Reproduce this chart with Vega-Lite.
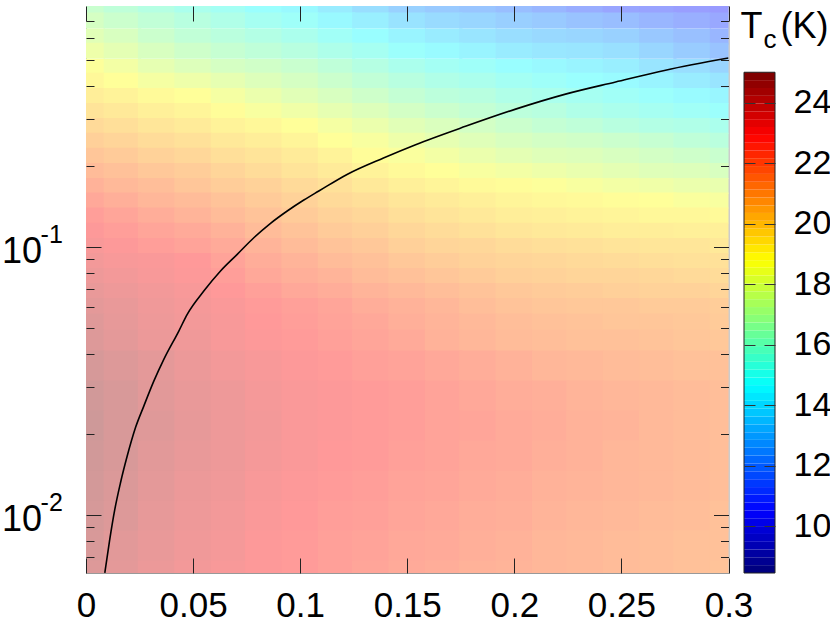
{"$schema":"https://vega.github.io/schema/vega-lite/v6.json","background":"white","padding":{"left":0,"top":5,"right":0,"bottom":0},"spacing":15,"bounds":"flush","resolve":{"scale":{"color":"independent"}},"config":{"font":"Liberation Sans","axis":{"grid":false,"domain":false,"title":null}},
"datasets":{"hi":[
{"x":0,"y":0.79,"t":16.6},{"x":0.017,"y":0.79,"t":16.2},{"x":0.033,"y":0.79,"t":15.8},{"x":0.05,"y":0.79,"t":15.4},{"x":0.067,"y":0.79,"t":15.1},{"x":0.083,"y":0.79,"t":14.7},{"x":0.1,"y":0.79,"t":14.4},{"x":0.117,"y":0.79,"t":13.9},{"x":0.133,"y":0.79,"t":13.3},{"x":0.15,"y":0.79,"t":12.8},{"x":0.167,"y":0.79,"t":12.5},{"x":0.183,"y":0.79,"t":12.3},{"x":0.2,"y":0.79,"t":12.0},{"x":0.217,"y":0.79,"t":11.7},{"x":0.233,"y":0.79,"t":11.3},{"x":0.25,"y":0.79,"t":11.0},{"x":0.267,"y":0.79,"t":10.9},{"x":0.283,"y":0.79,"t":10.7},{"x":0.3,"y":0.79,"t":10.6},
{"x":0,"y":0.7,"t":17.1},{"x":0.017,"y":0.7,"t":16.7},{"x":0.033,"y":0.7,"t":16.3},{"x":0.05,"y":0.7,"t":15.9},{"x":0.067,"y":0.7,"t":15.6},{"x":0.083,"y":0.7,"t":15.2},{"x":0.1,"y":0.7,"t":14.9},{"x":0.117,"y":0.7,"t":14.4},{"x":0.133,"y":0.7,"t":14.0},{"x":0.15,"y":0.7,"t":13.5},{"x":0.167,"y":0.7,"t":13.2},{"x":0.183,"y":0.7,"t":13.0},{"x":0.2,"y":0.7,"t":12.7},{"x":0.217,"y":0.7,"t":12.5},{"x":0.233,"y":0.7,"t":12.2},{"x":0.25,"y":0.7,"t":12.0},{"x":0.267,"y":0.7,"t":11.7},{"x":0.283,"y":0.7,"t":11.4},{"x":0.3,"y":0.7,"t":11.1},
{"x":0,"y":0.61,"t":17.6},{"x":0.017,"y":0.61,"t":17.2},{"x":0.033,"y":0.61,"t":16.7},{"x":0.05,"y":0.61,"t":16.3},{"x":0.067,"y":0.61,"t":16.0},{"x":0.083,"y":0.61,"t":15.7},{"x":0.1,"y":0.61,"t":15.4},{"x":0.117,"y":0.61,"t":15.0},{"x":0.133,"y":0.61,"t":14.6},{"x":0.15,"y":0.61,"t":14.2},{"x":0.167,"y":0.61,"t":13.9},{"x":0.183,"y":0.61,"t":13.6},{"x":0.2,"y":0.61,"t":13.3},{"x":0.217,"y":0.61,"t":13.1},{"x":0.233,"y":0.61,"t":13.0},{"x":0.25,"y":0.61,"t":12.8},{"x":0.267,"y":0.61,"t":12.4},{"x":0.283,"y":0.61,"t":12.1},{"x":0.3,"y":0.61,"t":11.7},
{"x":0,"y":0.54,"t":18.1},{"x":0.017,"y":0.54,"t":17.7},{"x":0.033,"y":0.54,"t":17.2},{"x":0.05,"y":0.54,"t":16.8},{"x":0.067,"y":0.54,"t":16.5},{"x":0.083,"y":0.54,"t":16.2},{"x":0.1,"y":0.54,"t":15.9},{"x":0.117,"y":0.54,"t":15.5},{"x":0.133,"y":0.54,"t":15.2},{"x":0.15,"y":0.54,"t":14.8},{"x":0.167,"y":0.54,"t":14.5},{"x":0.183,"y":0.54,"t":14.2},{"x":0.2,"y":0.54,"t":13.9},{"x":0.217,"y":0.54,"t":13.7},{"x":0.233,"y":0.54,"t":13.6},{"x":0.25,"y":0.54,"t":13.4},{"x":0.267,"y":0.54,"t":13.0},{"x":0.283,"y":0.54,"t":12.6},{"x":0.3,"y":0.54,"t":12.2},
{"x":0,"y":0.47,"t":18.7},{"x":0.017,"y":0.47,"t":18.3},{"x":0.033,"y":0.47,"t":17.8},{"x":0.05,"y":0.47,"t":17.4},{"x":0.067,"y":0.47,"t":17.1},{"x":0.083,"y":0.47,"t":16.9},{"x":0.1,"y":0.47,"t":16.6},{"x":0.117,"y":0.47,"t":16.2},{"x":0.133,"y":0.47,"t":15.8},{"x":0.15,"y":0.47,"t":15.4},{"x":0.167,"y":0.47,"t":15.1},{"x":0.183,"y":0.47,"t":14.9},{"x":0.2,"y":0.47,"t":14.6},{"x":0.217,"y":0.47,"t":14.4},{"x":0.233,"y":0.47,"t":14.2},{"x":0.25,"y":0.47,"t":14.0},{"x":0.267,"y":0.47,"t":13.6},{"x":0.283,"y":0.47,"t":13.3},{"x":0.3,"y":0.47,"t":12.9},
{"x":0,"y":0.417,"t":19.1},{"x":0.017,"y":0.417,"t":18.8},{"x":0.033,"y":0.417,"t":18.4},{"x":0.05,"y":0.417,"t":18.1},{"x":0.067,"y":0.417,"t":17.8},{"x":0.083,"y":0.417,"t":17.4},{"x":0.1,"y":0.417,"t":17.1},{"x":0.117,"y":0.417,"t":16.7},{"x":0.133,"y":0.417,"t":16.3},{"x":0.15,"y":0.417,"t":15.9},{"x":0.167,"y":0.417,"t":15.6},{"x":0.183,"y":0.417,"t":15.4},{"x":0.2,"y":0.417,"t":15.1},{"x":0.217,"y":0.417,"t":14.9},{"x":0.233,"y":0.417,"t":14.7},{"x":0.25,"y":0.417,"t":14.5},{"x":0.267,"y":0.417,"t":14.2},{"x":0.283,"y":0.417,"t":13.9},{"x":0.3,"y":0.417,"t":13.6},
{"x":0,"y":0.366,"t":19.5},{"x":0.017,"y":0.366,"t":19.3},{"x":0.033,"y":0.366,"t":19.0},{"x":0.05,"y":0.366,"t":18.8},{"x":0.067,"y":0.366,"t":18.4},{"x":0.083,"y":0.366,"t":18.0},{"x":0.1,"y":0.366,"t":17.6},{"x":0.117,"y":0.366,"t":17.2},{"x":0.133,"y":0.366,"t":16.8},{"x":0.15,"y":0.366,"t":16.4},{"x":0.167,"y":0.366,"t":16.1},{"x":0.183,"y":0.366,"t":15.9},{"x":0.2,"y":0.366,"t":15.6},{"x":0.217,"y":0.366,"t":15.4},{"x":0.233,"y":0.366,"t":15.2},{"x":0.25,"y":0.366,"t":15.0},{"x":0.267,"y":0.366,"t":14.8},{"x":0.283,"y":0.366,"t":14.5},{"x":0.3,"y":0.366,"t":14.3},
{"x":0,"y":0.322,"t":19.9},{"x":0.017,"y":0.322,"t":19.7},{"x":0.033,"y":0.322,"t":19.4},{"x":0.05,"y":0.322,"t":19.2},{"x":0.067,"y":0.322,"t":18.9},{"x":0.083,"y":0.322,"t":18.5},{"x":0.1,"y":0.322,"t":18.2},{"x":0.117,"y":0.322,"t":17.8},{"x":0.133,"y":0.322,"t":17.4},{"x":0.15,"y":0.322,"t":17.0},{"x":0.167,"y":0.322,"t":16.7},{"x":0.183,"y":0.322,"t":16.4},{"x":0.2,"y":0.322,"t":16.1},{"x":0.217,"y":0.322,"t":15.9},{"x":0.233,"y":0.322,"t":15.6},{"x":0.25,"y":0.322,"t":15.4},{"x":0.267,"y":0.322,"t":15.2},{"x":0.283,"y":0.322,"t":15.0},{"x":0.3,"y":0.322,"t":14.8},
{"x":0,"y":0.283,"t":20.3},{"x":0.017,"y":0.283,"t":20.1},{"x":0.033,"y":0.283,"t":19.8},{"x":0.05,"y":0.283,"t":19.6},{"x":0.067,"y":0.283,"t":19.3},{"x":0.083,"y":0.283,"t":19.1},{"x":0.1,"y":0.283,"t":18.8},{"x":0.117,"y":0.283,"t":18.4},{"x":0.133,"y":0.283,"t":18.0},{"x":0.15,"y":0.283,"t":17.6},{"x":0.167,"y":0.283,"t":17.3},{"x":0.183,"y":0.283,"t":17.0},{"x":0.2,"y":0.283,"t":16.7},{"x":0.217,"y":0.283,"t":16.4},{"x":0.233,"y":0.283,"t":16.2},{"x":0.25,"y":0.283,"t":15.9},{"x":0.267,"y":0.283,"t":15.7},{"x":0.283,"y":0.283,"t":15.6},{"x":0.3,"y":0.283,"t":15.4},
{"x":0,"y":0.249,"t":20.7},{"x":0.017,"y":0.249,"t":20.5},{"x":0.033,"y":0.249,"t":20.2},{"x":0.05,"y":0.249,"t":20.0},{"x":0.067,"y":0.249,"t":19.7},{"x":0.083,"y":0.249,"t":19.5},{"x":0.1,"y":0.249,"t":19.2},{"x":0.117,"y":0.249,"t":18.8},{"x":0.133,"y":0.249,"t":18.5},{"x":0.15,"y":0.249,"t":18.1},{"x":0.167,"y":0.249,"t":17.8},{"x":0.183,"y":0.249,"t":17.5},{"x":0.2,"y":0.249,"t":17.2},{"x":0.217,"y":0.249,"t":17.0},{"x":0.233,"y":0.249,"t":16.9},{"x":0.25,"y":0.249,"t":16.7},{"x":0.267,"y":0.249,"t":16.5},{"x":0.283,"y":0.249,"t":16.2},{"x":0.3,"y":0.249,"t":16.0},
{"x":0,"y":0.219,"t":21.1},{"x":0.017,"y":0.219,"t":20.9},{"x":0.033,"y":0.219,"t":20.6},{"x":0.05,"y":0.219,"t":20.4},{"x":0.067,"y":0.219,"t":20.1},{"x":0.083,"y":0.219,"t":19.9},{"x":0.1,"y":0.219,"t":19.6},{"x":0.117,"y":0.219,"t":19.3},{"x":0.133,"y":0.219,"t":18.9},{"x":0.15,"y":0.219,"t":18.6},{"x":0.167,"y":0.219,"t":18.3},{"x":0.183,"y":0.219,"t":18.0},{"x":0.2,"y":0.219,"t":17.7},{"x":0.217,"y":0.219,"t":17.5},{"x":0.233,"y":0.219,"t":17.4},{"x":0.25,"y":0.219,"t":17.2},{"x":0.267,"y":0.219,"t":17.0},{"x":0.283,"y":0.219,"t":16.8},{"x":0.3,"y":0.219,"t":16.6},
{"x":0,"y":0.192,"t":21.5},{"x":0.017,"y":0.192,"t":21.3},{"x":0.033,"y":0.192,"t":21.0},{"x":0.05,"y":0.192,"t":20.8},{"x":0.067,"y":0.192,"t":20.5},{"x":0.083,"y":0.192,"t":20.2},{"x":0.1,"y":0.192,"t":19.9},{"x":0.117,"y":0.192,"t":19.6},{"x":0.133,"y":0.192,"t":19.3},{"x":0.15,"y":0.192,"t":19.0},{"x":0.167,"y":0.192,"t":18.8},{"x":0.183,"y":0.192,"t":18.5},{"x":0.2,"y":0.192,"t":18.3},{"x":0.217,"y":0.192,"t":18.1},{"x":0.233,"y":0.192,"t":17.9},{"x":0.25,"y":0.192,"t":17.7},{"x":0.267,"y":0.192,"t":17.5},{"x":0.283,"y":0.192,"t":17.4},{"x":0.3,"y":0.192,"t":17.2},
{"x":0,"y":0.169,"t":21.9},{"x":0.017,"y":0.169,"t":21.6},{"x":0.033,"y":0.169,"t":21.4},{"x":0.05,"y":0.169,"t":21.1},{"x":0.067,"y":0.169,"t":20.8},{"x":0.083,"y":0.169,"t":20.6},{"x":0.1,"y":0.169,"t":20.3},{"x":0.117,"y":0.169,"t":20.0},{"x":0.133,"y":0.169,"t":19.7},{"x":0.15,"y":0.169,"t":19.4},{"x":0.167,"y":0.169,"t":19.2},{"x":0.183,"y":0.169,"t":19.0},{"x":0.2,"y":0.169,"t":18.9},{"x":0.217,"y":0.169,"t":18.7},{"x":0.233,"y":0.169,"t":18.5},{"x":0.25,"y":0.169,"t":18.3},{"x":0.267,"y":0.169,"t":18.2},{"x":0.283,"y":0.169,"t":18.0},{"x":0.3,"y":0.169,"t":17.9},
{"x":0,"y":0.149,"t":22.3},{"x":0.017,"y":0.149,"t":22.0},{"x":0.033,"y":0.149,"t":21.7},{"x":0.05,"y":0.149,"t":21.5},{"x":0.067,"y":0.149,"t":21.2},{"x":0.083,"y":0.149,"t":20.9},{"x":0.1,"y":0.149,"t":20.6},{"x":0.117,"y":0.149,"t":20.3},{"x":0.133,"y":0.149,"t":20.1},{"x":0.15,"y":0.149,"t":19.8},{"x":0.167,"y":0.149,"t":19.6},{"x":0.183,"y":0.149,"t":19.4},{"x":0.2,"y":0.149,"t":19.2},{"x":0.217,"y":0.149,"t":19.1},{"x":0.233,"y":0.149,"t":19.0},{"x":0.25,"y":0.149,"t":18.9},{"x":0.267,"y":0.149,"t":18.8},{"x":0.283,"y":0.149,"t":18.6},{"x":0.3,"y":0.149,"t":18.5},
{"x":0,"y":0.131,"t":22.7},{"x":0.017,"y":0.131,"t":22.4},{"x":0.033,"y":0.131,"t":22.1},{"x":0.05,"y":0.131,"t":21.8},{"x":0.067,"y":0.131,"t":21.5},{"x":0.083,"y":0.131,"t":21.2},{"x":0.1,"y":0.131,"t":20.9},{"x":0.117,"y":0.131,"t":20.6},{"x":0.133,"y":0.131,"t":20.4},{"x":0.15,"y":0.131,"t":20.1},{"x":0.167,"y":0.131,"t":19.9},{"x":0.183,"y":0.131,"t":19.7},{"x":0.2,"y":0.131,"t":19.5},{"x":0.217,"y":0.131,"t":19.4},{"x":0.233,"y":0.131,"t":19.3},{"x":0.25,"y":0.131,"t":19.2},{"x":0.267,"y":0.131,"t":19.1},{"x":0.283,"y":0.131,"t":19.1},{"x":0.3,"y":0.131,"t":19.0},
{"x":0,"y":0.115,"t":23.0},{"x":0.017,"y":0.115,"t":22.7},{"x":0.033,"y":0.115,"t":22.4},{"x":0.05,"y":0.115,"t":22.2},{"x":0.067,"y":0.115,"t":21.9},{"x":0.083,"y":0.115,"t":21.5},{"x":0.1,"y":0.115,"t":21.2},{"x":0.117,"y":0.115,"t":20.9},{"x":0.133,"y":0.115,"t":20.7},{"x":0.15,"y":0.115,"t":20.4},{"x":0.167,"y":0.115,"t":20.2},{"x":0.183,"y":0.115,"t":20.0},{"x":0.2,"y":0.115,"t":19.8},{"x":0.217,"y":0.115,"t":19.7},{"x":0.233,"y":0.115,"t":19.6},{"x":0.25,"y":0.115,"t":19.5},{"x":0.267,"y":0.115,"t":19.5},{"x":0.283,"y":0.115,"t":19.4},{"x":0.3,"y":0.115,"t":19.4},
{"x":0,"y":0.101,"t":23.2},{"x":0.017,"y":0.101,"t":23.0},{"x":0.033,"y":0.101,"t":22.7},{"x":0.05,"y":0.101,"t":22.5},{"x":0.067,"y":0.101,"t":22.2},{"x":0.083,"y":0.101,"t":21.8},{"x":0.1,"y":0.101,"t":21.5},{"x":0.117,"y":0.101,"t":21.2},{"x":0.133,"y":0.101,"t":21.0},{"x":0.15,"y":0.101,"t":20.7},{"x":0.167,"y":0.101,"t":20.5},{"x":0.183,"y":0.101,"t":20.4},{"x":0.2,"y":0.101,"t":20.2},{"x":0.217,"y":0.101,"t":20.1},{"x":0.233,"y":0.101,"t":20.0},{"x":0.25,"y":0.101,"t":19.9},{"x":0.267,"y":0.101,"t":19.8},{"x":0.283,"y":0.101,"t":19.8},{"x":0.3,"y":0.101,"t":19.7},
{"x":0,"y":0.0887,"t":23.4},{"x":0.017,"y":0.0887,"t":23.2},{"x":0.033,"y":0.0887,"t":23.1},{"x":0.05,"y":0.0887,"t":22.9},{"x":0.067,"y":0.0887,"t":22.5},{"x":0.083,"y":0.0887,"t":22.1},{"x":0.1,"y":0.0887,"t":21.8},{"x":0.117,"y":0.0887,"t":21.5},{"x":0.133,"y":0.0887,"t":21.3},{"x":0.15,"y":0.0887,"t":21.0},{"x":0.167,"y":0.0887,"t":20.8},{"x":0.183,"y":0.0887,"t":20.6},{"x":0.2,"y":0.0887,"t":20.5},{"x":0.217,"y":0.0887,"t":20.4},{"x":0.233,"y":0.0887,"t":20.3},{"x":0.25,"y":0.0887,"t":20.2},{"x":0.267,"y":0.0887,"t":20.1},{"x":0.283,"y":0.0887,"t":20.0},{"x":0.3,"y":0.0887,"t":20.0},
{"x":0,"y":0.078,"t":23.6},{"x":0.017,"y":0.078,"t":23.4},{"x":0.033,"y":0.078,"t":23.2},{"x":0.05,"y":0.078,"t":23.0},{"x":0.067,"y":0.078,"t":22.7},{"x":0.083,"y":0.078,"t":22.3},{"x":0.1,"y":0.078,"t":22.0},{"x":0.117,"y":0.078,"t":21.8},{"x":0.133,"y":0.078,"t":21.5},{"x":0.15,"y":0.078,"t":21.3},{"x":0.167,"y":0.078,"t":21.1},{"x":0.183,"y":0.078,"t":20.9},{"x":0.2,"y":0.078,"t":20.7},{"x":0.217,"y":0.078,"t":20.6},{"x":0.233,"y":0.078,"t":20.5},{"x":0.25,"y":0.078,"t":20.5},{"x":0.267,"y":0.078,"t":20.4},{"x":0.283,"y":0.078,"t":20.3},{"x":0.3,"y":0.078,"t":20.2},
{"x":0,"y":0.0685,"t":23.8},{"x":0.017,"y":0.0685,"t":23.6},{"x":0.033,"y":0.0685,"t":23.4},{"x":0.05,"y":0.0685,"t":23.2},{"x":0.067,"y":0.0685,"t":22.9},{"x":0.083,"y":0.0685,"t":22.6},{"x":0.1,"y":0.0685,"t":22.3},{"x":0.117,"y":0.0685,"t":22.1},{"x":0.133,"y":0.0685,"t":21.8},{"x":0.15,"y":0.0685,"t":21.6},{"x":0.167,"y":0.0685,"t":21.4},{"x":0.183,"y":0.0685,"t":21.2},{"x":0.2,"y":0.0685,"t":21.0},{"x":0.217,"y":0.0685,"t":20.9},{"x":0.233,"y":0.0685,"t":20.8},{"x":0.25,"y":0.0685,"t":20.7},{"x":0.267,"y":0.0685,"t":20.6},{"x":0.283,"y":0.0685,"t":20.6},{"x":0.3,"y":0.0685,"t":20.5},
{"x":0,"y":0.0603,"t":24.0},{"x":0.017,"y":0.0603,"t":23.8},{"x":0.033,"y":0.0603,"t":23.5},{"x":0.05,"y":0.0603,"t":23.3},{"x":0.067,"y":0.0603,"t":23.1},{"x":0.083,"y":0.0603,"t":22.8},{"x":0.1,"y":0.0603,"t":22.6},{"x":0.117,"y":0.0603,"t":22.4},{"x":0.133,"y":0.0603,"t":22.1},{"x":0.15,"y":0.0603,"t":21.9},{"x":0.167,"y":0.0603,"t":21.7},{"x":0.183,"y":0.0603,"t":21.4},{"x":0.2,"y":0.0603,"t":21.2},{"x":0.217,"y":0.0603,"t":21.1},{"x":0.233,"y":0.0603,"t":21.0},{"x":0.25,"y":0.0603,"t":21.0},{"x":0.267,"y":0.0603,"t":20.9},{"x":0.283,"y":0.0603,"t":20.9},{"x":0.3,"y":0.0603,"t":20.8},
{"x":0,"y":0.0527,"t":24.2},{"x":0.017,"y":0.0527,"t":23.9},{"x":0.033,"y":0.0527,"t":23.6},{"x":0.05,"y":0.0527,"t":23.4},{"x":0.067,"y":0.0527,"t":23.2},{"x":0.083,"y":0.0527,"t":22.9},{"x":0.1,"y":0.0527,"t":22.7},{"x":0.117,"y":0.0527,"t":22.5},{"x":0.133,"y":0.0527,"t":22.3},{"x":0.15,"y":0.0527,"t":22.0},{"x":0.167,"y":0.0527,"t":21.8},{"x":0.183,"y":0.0527,"t":21.6},{"x":0.2,"y":0.0527,"t":21.4},{"x":0.217,"y":0.0527,"t":21.3},{"x":0.233,"y":0.0527,"t":21.2},{"x":0.25,"y":0.0527,"t":21.1},{"x":0.267,"y":0.0527,"t":21.1},{"x":0.283,"y":0.0527,"t":21.0},{"x":0.3,"y":0.0527,"t":20.9}
],"lo":[
{"x":0,"y":0.0466,"t":24.3},{"x":0.017,"y":0.0466,"t":24.0},{"x":0.033,"y":0.0466,"t":23.7},{"x":0.05,"y":0.0466,"t":23.5},{"x":0.067,"y":0.0466,"t":23.2},{"x":0.083,"y":0.0466,"t":23.0},{"x":0.1,"y":0.0466,"t":22.8},{"x":0.117,"y":0.0466,"t":22.6},{"x":0.133,"y":0.0466,"t":22.4},{"x":0.15,"y":0.0466,"t":22.2},{"x":0.167,"y":0.0466,"t":21.9},{"x":0.183,"y":0.0466,"t":21.7},{"x":0.2,"y":0.0466,"t":21.5},{"x":0.217,"y":0.0466,"t":21.4},{"x":0.233,"y":0.0466,"t":21.3},{"x":0.25,"y":0.0466,"t":21.3},{"x":0.267,"y":0.0466,"t":21.2},{"x":0.283,"y":0.0466,"t":21.1},{"x":0.3,"y":0.0466,"t":21.0},
{"x":0,"y":0.036,"t":24.6},{"x":0.017,"y":0.036,"t":24.3},{"x":0.033,"y":0.036,"t":24.0},{"x":0.05,"y":0.036,"t":23.7},{"x":0.067,"y":0.036,"t":23.4},{"x":0.083,"y":0.036,"t":23.2},{"x":0.1,"y":0.036,"t":23.0},{"x":0.117,"y":0.036,"t":22.8},{"x":0.133,"y":0.036,"t":22.6},{"x":0.15,"y":0.036,"t":22.5},{"x":0.167,"y":0.036,"t":22.3},{"x":0.183,"y":0.036,"t":22.1},{"x":0.2,"y":0.036,"t":21.9},{"x":0.217,"y":0.036,"t":21.7},{"x":0.233,"y":0.036,"t":21.6},{"x":0.25,"y":0.036,"t":21.5},{"x":0.267,"y":0.036,"t":21.4},{"x":0.283,"y":0.036,"t":21.3},{"x":0.3,"y":0.036,"t":21.3},
{"x":0,"y":0.0278,"t":24.8},{"x":0.017,"y":0.0278,"t":24.5},{"x":0.033,"y":0.0278,"t":24.1},{"x":0.05,"y":0.0278,"t":23.8},{"x":0.067,"y":0.0278,"t":23.6},{"x":0.083,"y":0.0278,"t":23.3},{"x":0.1,"y":0.0278,"t":23.1},{"x":0.117,"y":0.0278,"t":23.0},{"x":0.133,"y":0.0278,"t":22.8},{"x":0.15,"y":0.0278,"t":22.7},{"x":0.167,"y":0.0278,"t":22.5},{"x":0.183,"y":0.0278,"t":22.3},{"x":0.2,"y":0.0278,"t":22.1},{"x":0.217,"y":0.0278,"t":22.0},{"x":0.233,"y":0.0278,"t":21.8},{"x":0.25,"y":0.0278,"t":21.7},{"x":0.267,"y":0.0278,"t":21.6},{"x":0.283,"y":0.0278,"t":21.5},{"x":0.3,"y":0.0278,"t":21.4},
{"x":0,"y":0.0215,"t":24.9},{"x":0.017,"y":0.0215,"t":24.5},{"x":0.033,"y":0.0215,"t":24.2},{"x":0.05,"y":0.0215,"t":23.9},{"x":0.067,"y":0.0215,"t":23.6},{"x":0.083,"y":0.0215,"t":23.4},{"x":0.1,"y":0.0215,"t":23.1},{"x":0.117,"y":0.0215,"t":23.0},{"x":0.133,"y":0.0215,"t":22.8},{"x":0.15,"y":0.0215,"t":22.7},{"x":0.167,"y":0.0215,"t":22.5},{"x":0.183,"y":0.0215,"t":22.4},{"x":0.2,"y":0.0215,"t":22.2},{"x":0.217,"y":0.0215,"t":22.1},{"x":0.233,"y":0.0215,"t":21.9},{"x":0.25,"y":0.0215,"t":21.8},{"x":0.267,"y":0.0215,"t":21.6},{"x":0.283,"y":0.0215,"t":21.5},{"x":0.3,"y":0.0215,"t":21.4},
{"x":0,"y":0.0166,"t":24.8},{"x":0.017,"y":0.0166,"t":24.5},{"x":0.033,"y":0.0166,"t":24.1},{"x":0.05,"y":0.0166,"t":23.8},{"x":0.067,"y":0.0166,"t":23.6},{"x":0.083,"y":0.0166,"t":23.3},{"x":0.1,"y":0.0166,"t":23.1},{"x":0.117,"y":0.0166,"t":22.9},{"x":0.133,"y":0.0166,"t":22.8},{"x":0.15,"y":0.0166,"t":22.6},{"x":0.167,"y":0.0166,"t":22.5},{"x":0.183,"y":0.0166,"t":22.3},{"x":0.2,"y":0.0166,"t":22.2},{"x":0.217,"y":0.0166,"t":22.0},{"x":0.233,"y":0.0166,"t":21.9},{"x":0.25,"y":0.0166,"t":21.7},{"x":0.267,"y":0.0166,"t":21.6},{"x":0.283,"y":0.0166,"t":21.5},{"x":0.3,"y":0.0166,"t":21.4},
{"x":0,"y":0.0128,"t":24.7},{"x":0.017,"y":0.0128,"t":24.4},{"x":0.033,"y":0.0128,"t":24.0},{"x":0.05,"y":0.0128,"t":23.7},{"x":0.067,"y":0.0128,"t":23.5},{"x":0.083,"y":0.0128,"t":23.2},{"x":0.1,"y":0.0128,"t":23.0},{"x":0.117,"y":0.0128,"t":22.8},{"x":0.133,"y":0.0128,"t":22.7},{"x":0.15,"y":0.0128,"t":22.5},{"x":0.167,"y":0.0128,"t":22.4},{"x":0.183,"y":0.0128,"t":22.2},{"x":0.2,"y":0.0128,"t":22.1},{"x":0.217,"y":0.0128,"t":21.9},{"x":0.233,"y":0.0128,"t":21.8},{"x":0.25,"y":0.0128,"t":21.7},{"x":0.267,"y":0.0128,"t":21.6},{"x":0.283,"y":0.0128,"t":21.5},{"x":0.3,"y":0.0128,"t":21.4},
{"x":0,"y":0.0099,"t":24.6},{"x":0.017,"y":0.0099,"t":24.3},{"x":0.033,"y":0.0099,"t":23.9},{"x":0.05,"y":0.0099,"t":23.6},{"x":0.067,"y":0.0099,"t":23.4},{"x":0.083,"y":0.0099,"t":23.1},{"x":0.1,"y":0.0099,"t":22.9},{"x":0.117,"y":0.0099,"t":22.7},{"x":0.133,"y":0.0099,"t":22.6},{"x":0.15,"y":0.0099,"t":22.4},{"x":0.167,"y":0.0099,"t":22.3},{"x":0.183,"y":0.0099,"t":22.1},{"x":0.2,"y":0.0099,"t":22.0},{"x":0.217,"y":0.0099,"t":21.8},{"x":0.233,"y":0.0099,"t":21.7},{"x":0.25,"y":0.0099,"t":21.6},{"x":0.267,"y":0.0099,"t":21.5},{"x":0.283,"y":0.0099,"t":21.4},{"x":0.3,"y":0.0099,"t":21.3},
{"x":0,"y":0.00766,"t":24.5},{"x":0.017,"y":0.00766,"t":24.1},{"x":0.033,"y":0.00766,"t":23.8},{"x":0.05,"y":0.00766,"t":23.5},{"x":0.067,"y":0.00766,"t":23.3},{"x":0.083,"y":0.00766,"t":23.0},{"x":0.1,"y":0.00766,"t":22.8},{"x":0.117,"y":0.00766,"t":22.6},{"x":0.133,"y":0.00766,"t":22.5},{"x":0.15,"y":0.00766,"t":22.3},{"x":0.167,"y":0.00766,"t":22.2},{"x":0.183,"y":0.00766,"t":22.0},{"x":0.2,"y":0.00766,"t":21.9},{"x":0.217,"y":0.00766,"t":21.7},{"x":0.233,"y":0.00766,"t":21.6},{"x":0.25,"y":0.00766,"t":21.5},{"x":0.267,"y":0.00766,"t":21.4},{"x":0.283,"y":0.00766,"t":21.3},{"x":0.3,"y":0.00766,"t":21.3},
{"x":0,"y":0.00592,"t":24.3},{"x":0.017,"y":0.00592,"t":24.0},{"x":0.033,"y":0.00592,"t":23.7},{"x":0.05,"y":0.00592,"t":23.4},{"x":0.067,"y":0.00592,"t":23.2},{"x":0.083,"y":0.00592,"t":23.0},{"x":0.1,"y":0.00592,"t":22.8},{"x":0.117,"y":0.00592,"t":22.6},{"x":0.133,"y":0.00592,"t":22.4},{"x":0.15,"y":0.00592,"t":22.2},{"x":0.167,"y":0.00592,"t":22.1},{"x":0.183,"y":0.00592,"t":21.9},{"x":0.2,"y":0.00592,"t":21.8},{"x":0.217,"y":0.00592,"t":21.7},{"x":0.233,"y":0.00592,"t":21.6},{"x":0.25,"y":0.00592,"t":21.5},{"x":0.267,"y":0.00592,"t":21.4},{"x":0.283,"y":0.00592,"t":21.3},{"x":0.3,"y":0.00592,"t":21.2}
],"curve":[{"x":0.00878,"y":0.00609},{"x":0.01097,"y":0.008},{"x":0.01345,"y":0.0105},{"x":0.01611,"y":0.0132},{"x":0.01924,"y":0.0166},{"x":0.02312,"y":0.0212},{"x":0.02699,"y":0.0255},{"x":0.03166,"y":0.0316},{"x":0.03633,"y":0.0381},{"x":0.04334,"y":0.0486},{"x":0.04726,"y":0.0561},{"x":0.055,"y":0.0685},{"x":0.06281,"y":0.0814},{"x":0.07061,"y":0.0939},{"x":0.07836,"y":0.1083},{"x":0.08616,"y":0.1226},{"x":0.09396,"y":0.1363},{"x":0.10171,"y":0.1498},{"x":0.10872,"y":0.1618},{"x":0.1221,"y":0.187},{"x":0.1389,"y":0.215},{"x":0.1539,"y":0.241},{"x":0.1772,"y":0.282},{"x":0.2006,"y":0.327},{"x":0.2239,"y":0.372},{"x":0.2473,"y":0.413},{"x":0.2706,"y":0.457},{"x":0.3,"y":0.507}],
"exp":[{"x":-0.0212,"y":0.1,"s":"-1"},{"x":-0.0212,"y":0.01,"s":"-2"}],
"bar":[{"t":8.45,"b":8.71},{"t":8.71,"b":8.97},{"t":8.97,"b":9.23},{"t":9.23,"b":9.48},{"t":9.48,"b":9.74},{"t":9.74,"b":10.0},{"t":10.0,"b":10.26},{"t":10.26,"b":10.52},{"t":10.52,"b":10.78},{"t":10.78,"b":11.04},{"t":11.04,"b":11.29},{"t":11.29,"b":11.55},{"t":11.55,"b":11.81},{"t":11.81,"b":12.07},{"t":12.07,"b":12.33},{"t":12.33,"b":12.59},{"t":12.59,"b":12.85},{"t":12.85,"b":13.1},{"t":13.1,"b":13.36},{"t":13.36,"b":13.62},{"t":13.62,"b":13.88},{"t":13.88,"b":14.14},{"t":14.14,"b":14.4},{"t":14.4,"b":14.66},{"t":14.66,"b":14.91},{"t":14.91,"b":15.17},{"t":15.17,"b":15.43},{"t":15.43,"b":15.69},{"t":15.69,"b":15.95},{"t":15.95,"b":16.21},{"t":16.21,"b":16.47},{"t":16.47,"b":16.73},{"t":16.73,"b":16.98},{"t":16.98,"b":17.24},{"t":17.24,"b":17.5},{"t":17.5,"b":17.76},{"t":17.76,"b":18.02},{"t":18.02,"b":18.28},{"t":18.28,"b":18.54},{"t":18.54,"b":18.79},{"t":18.79,"b":19.05},{"t":19.05,"b":19.31},{"t":19.31,"b":19.57},{"t":19.57,"b":19.83},{"t":19.83,"b":20.09},{"t":20.09,"b":20.35},{"t":20.35,"b":20.6},{"t":20.6,"b":20.86},{"t":20.86,"b":21.12},{"t":21.12,"b":21.38},{"t":21.38,"b":21.64},{"t":21.64,"b":21.9},{"t":21.9,"b":22.16},{"t":22.16,"b":22.41},{"t":22.41,"b":22.67},{"t":22.67,"b":22.93},{"t":22.93,"b":23.19},{"t":23.19,"b":23.45},{"t":23.45,"b":23.71},{"t":23.71,"b":23.97},{"t":23.97,"b":24.22},{"t":24.22,"b":24.48},{"t":24.48,"b":24.74},{"t":24.74,"b":25.0}],
"ttl":[{"x":-0.11,"y":26.13,"s":"T","f":36},{"x":0.63,"y":25.8,"s":"c","f":26},{"x":1.18,"y":26.13,"s":"(K)","f":36}]},
"hconcat":[
{"width":642.5,"height":567,"view":{"stroke":"#999999","strokeWidth":1},"resolve":{"axis":{"x":"independent","y":"independent"}},"layer":[
{"data":{"name":"lo"},"mark":{"type":"rect","width":37.5,"height":31,"clip":true},"encoding":{
"x":{"field":"x","type":"quantitative","scale":{"domain":[0,0.3],"nice":false,"zero":false},"axis":{"orient":"bottom","zindex":2,"values":[0,0.05,0.1,0.15,0.2,0.25,0.3],"format":"~g","labelFontSize":35,"labelColor":"black","labelPadding":30,"tickSize":-15,"tickColor":"#222222","labelFlush":false}},
"y":{"field":"y","type":"quantitative","scale":{"type":"log","domain":[0.00608,0.793],"nice":false},"axis":{"orient":"left","zindex":2,"values":[0.01,0.1],"labelExpr":"'10'","labelFontSize":36,"labelColor":"black","labelPadding":59.5,"labelOffset":4,"labelOverlap":false,"tickColor":"#222222","tickSize":-15}},
"color":{"field":"t","type":"quantitative","legend":null,"scale":{"domain":[8.45,10.5,14.66,18.8,22.9,25],"range":["#9999d2","#9999ff","#99ffff","#ffff99","#ff9999","#cc9999"],"interpolate":"rgb"}}}},
{"data":{"name":"hi"},"mark":{"type":"rect","width":37.5,"height":16,"clip":true},"encoding":{
"x":{"field":"x","type":"quantitative","axis":null},"y":{"field":"y","type":"quantitative","axis":{"orient":"left","zindex":2,"values":[0.006,0.007,0.008,0.009,0.02,0.03,0.04,0.05,0.06,0.07,0.08,0.09,0.2,0.3,0.4,0.5,0.6,0.7,0.8],"labels":false,"tickColor":"#222222","tickSize":-8}},
"color":{"field":"t","type":"quantitative","legend":null}}},
{"data":{"name":"curve"},"mark":{"type":"line","color":"black","strokeWidth":1.6,"interpolate":"monotone","clip":true},"encoding":{
"x":{"field":"x","type":"quantitative","axis":{"orient":"top","zindex":2,"values":[0,0.05,0.1,0.15,0.2,0.25,0.3],"labels":false,"tickSize":-15,"tickColor":"#222222"}},
"y":{"field":"y","type":"quantitative","axis":{"orient":"right","zindex":2,"values":[0.006,0.007,0.008,0.009,0.01,0.02,0.03,0.04,0.05,0.06,0.07,0.08,0.09,0.1,0.2,0.3,0.4,0.5,0.6,0.7,0.8],"labels":false,"tickColor":"#222222","tickSize":{"condition":{"test":"datum.value==0.1||datum.value==0.01","value":-15},"value":-8}}}}},
{"data":{"name":"exp"},"mark":{"type":"text","align":"left","baseline":"alphabetic","fontSize":25,"dy":-4,"color":"black"},"encoding":{
"x":{"field":"x","type":"quantitative","axis":null},"y":{"field":"y","type":"quantitative","axis":null},"text":{"field":"s"}}}
]},
{"width":31,"height":567,"view":{"stroke":null},"layer":[
{"data":{"name":"bar"},"mark":{"type":"rect"},"encoding":{
"x":{"datum":0,"type":"quantitative","scale":{"domain":[0,1],"nice":false,"zero":false},"axis":null},"x2":{"datum":1},
"y":{"field":"t","type":"quantitative","scale":{"domain":[8.45,27.19],"nice":false,"zero":false},"axis":{"orient":"right","zindex":2,"values":[10,12,14,16,18,20,22,24],"labelFontSize":34,"labelColor":"black","labelPadding":49,"tickSize":-31,"tickDash":[11,9,11],"tickColor":"#333333","labelFlush":false}},"y2":{"field":"b"},
"color":{"field":"t","type":"quantitative","legend":null,"scale":{"domain":[8.45,10.37,14.53,18.67,22.77,24.74],"range":["#000080","#0000ff","#00ffff","#ffff00","#ff0000","#800000"],"interpolate":"rgb"}}}},
{"data":{"values":[{"a":8.45,"b":25}]},"mark":{"type":"rect","fill":null,"stroke":"#222222","strokeWidth":1},"encoding":{"x":{"datum":0,"type":"quantitative"},"x2":{"datum":1},"y":{"field":"a","type":"quantitative"},"y2":{"field":"b"}}},
{"data":{"name":"ttl"},"mark":{"type":"text","align":"left","baseline":"alphabetic","color":"black"},"encoding":{"x":{"field":"x","type":"quantitative"},"y":{"field":"y","type":"quantitative"},"text":{"field":"s"},"size":{"field":"f","type":"quantitative","scale":null,"legend":null}}}
]}
]}
